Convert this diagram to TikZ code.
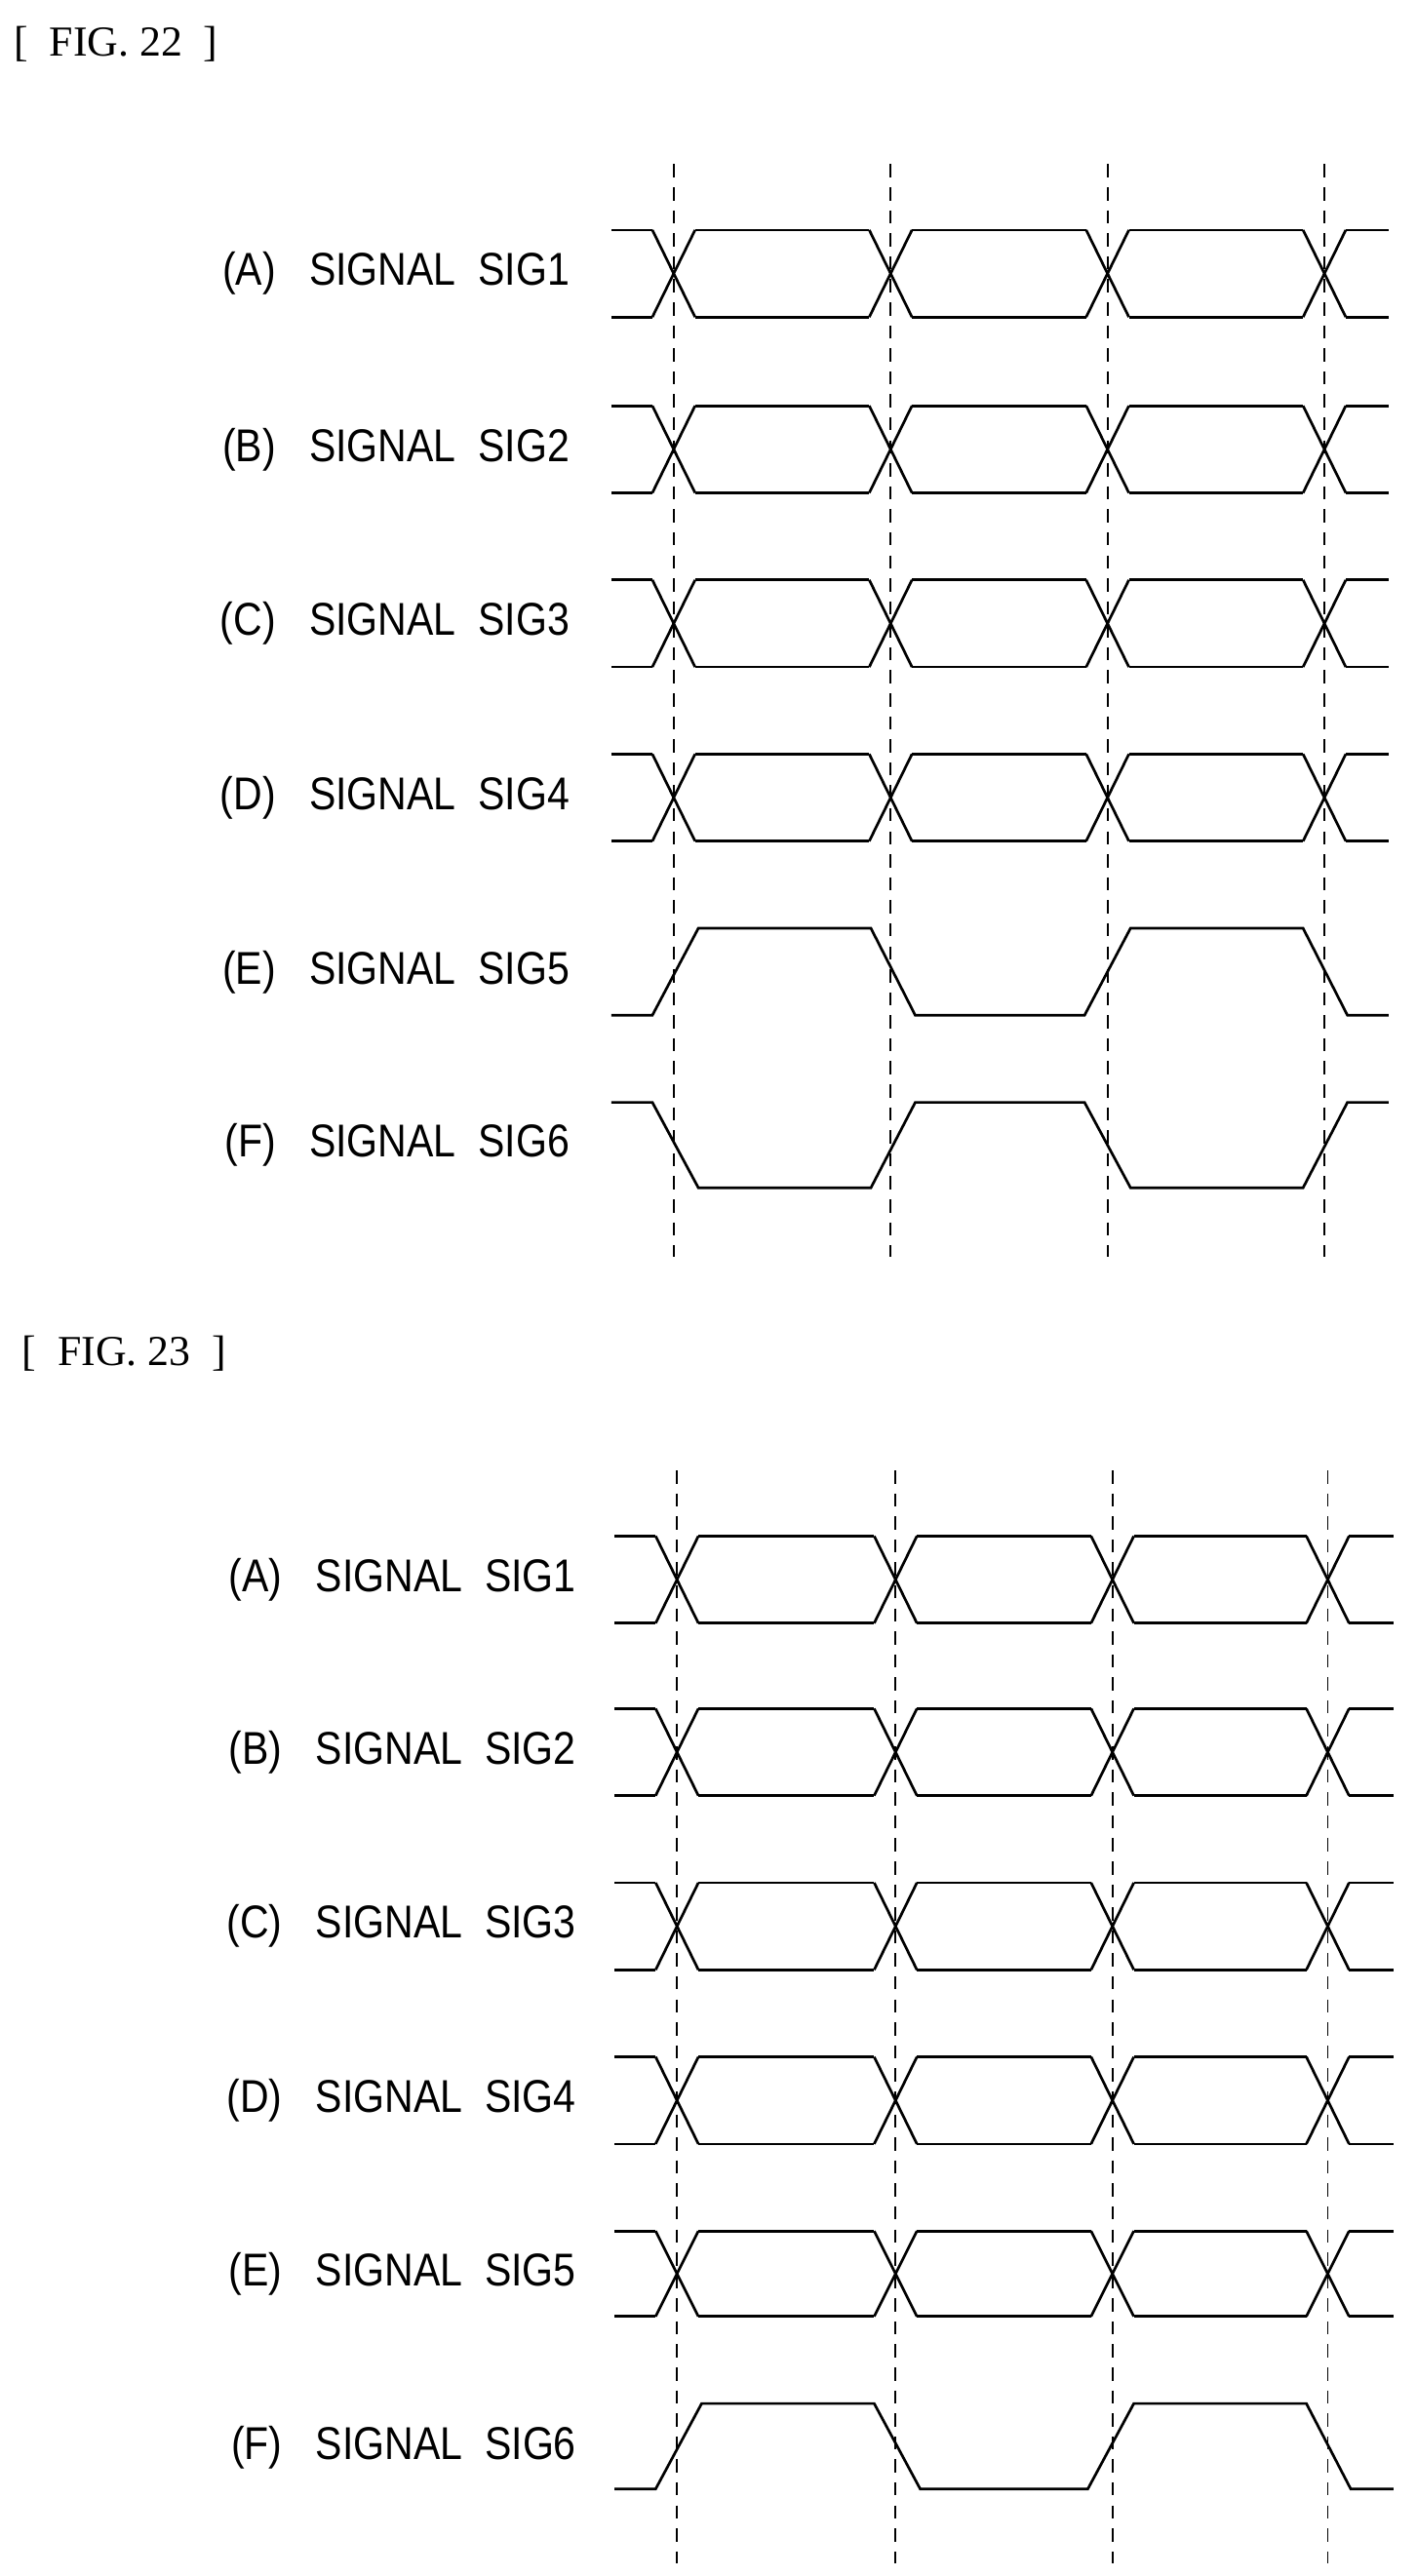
\documentclass[tikz,border=0pt]{standalone}
\usepackage{fontspec}
\setmainfont{Liberation Serif}
\newfontfamily\lblfont[FakeStretch=0.87]{Liberation Sans}
\begin{document}
\begin{tikzpicture}[x=0.5pt,y=-0.5pt,
  wave/.style={line width=0.8pt},
  guide/.style={line width=0.5pt,dash pattern=on 4pt off 3pt},
  lbl/.style={anchor=east,font=\lblfont\fontsize{14}{16}\selectfont,inner sep=0},
  hdr/.style={anchor=west,font=\fontsize{13}{15}\selectfont,inner sep=0}]
\useasboundingbox (0,0) rectangle (862,1568);
% FIG 22
\node[hdr] (h22) at (8,27) {[\ \ FIG. 22\ \ ]};
\foreach \c in {410,542,674,806} \draw[guide] (\c,100) -- (\c,765);
\foreach \h/\l/\t/\n in {140/193/A/1,247/300/B/2,353/406/C/3,459/512/D/4}{
  \node[lbl] (l\t) at (347,{(\h+\l)/2}) {(\t)\ \ \ SIGNAL\ \ SIG\n};
  \draw[wave] (372,\h) -- (397,\h) (423,\h) -- (529,\h) (555,\h) -- (661,\h) (687,\h) -- (793,\h) (819,\h) -- (845,\h);
  \draw[wave] (372,\l) -- (397,\l) (423,\l) -- (529,\l) (555,\l) -- (661,\l) (687,\l) -- (793,\l) (819,\l) -- (845,\l);
  \foreach \c in {410,542,674,806} \draw[wave] (\c-13,\h) -- (\c+13,\l) (\c-13,\l) -- (\c+13,\h);
}
\node[lbl] (lE) at (347,592) {(E)\ \ \ SIGNAL\ \ SIG5};
\draw[wave] (372,618) -- (397,618) -- (425,565) -- (530,565) -- (557,618) -- (660,618) -- (688,565) -- (793,565) -- (820,618) -- (845,618);
\node[lbl] (lF) at (347,697) {(F)\ \ \ SIGNAL\ \ SIG6};
\draw[wave] (372,671) -- (397,671) -- (425,723) -- (530,723) -- (557,671) -- (660,671) -- (688,723) -- (793,723) -- (820,671) -- (845,671);
% FIG 23
\node[hdr] (h23) at (13,824) {[\ \ FIG. 23\ \ ]};
\foreach \c in {412,545,677,808} \draw[guide] (\c,895) -- (\c,1560);
\foreach \h/\l/\t/\n in {935/988/A/1,1040/1093/B/2,1146/1199/C/3,1252/1305/D/4,1358/1410/E/5}{
  \node[lbl] (m\t) at (351,{(\h+\l)/2}) {(\t)\ \ \ SIGNAL\ \ SIG\n};
  \draw[wave] (374,\h) -- (399,\h) (425,\h) -- (532,\h) (558,\h) -- (664,\h) (690,\h) -- (795,\h) (821,\h) -- (848,\h);
  \draw[wave] (374,\l) -- (399,\l) (425,\l) -- (532,\l) (558,\l) -- (664,\l) (690,\l) -- (795,\l) (821,\l) -- (848,\l);
  \foreach \c in {412,545,677,808} \draw[wave] (\c-13,\h) -- (\c+13,\l) (\c-13,\l) -- (\c+13,\h);
}
\node[lbl] (mF) at (351,1490) {(F)\ \ \ SIGNAL\ \ SIG6};
\draw[wave] (374,1515) -- (399,1515) -- (427,1463) -- (532,1463) -- (560,1515) -- (662,1515) -- (690,1463) -- (795,1463) -- (822,1515) -- (848,1515);
\end{tikzpicture}
\end{document}
